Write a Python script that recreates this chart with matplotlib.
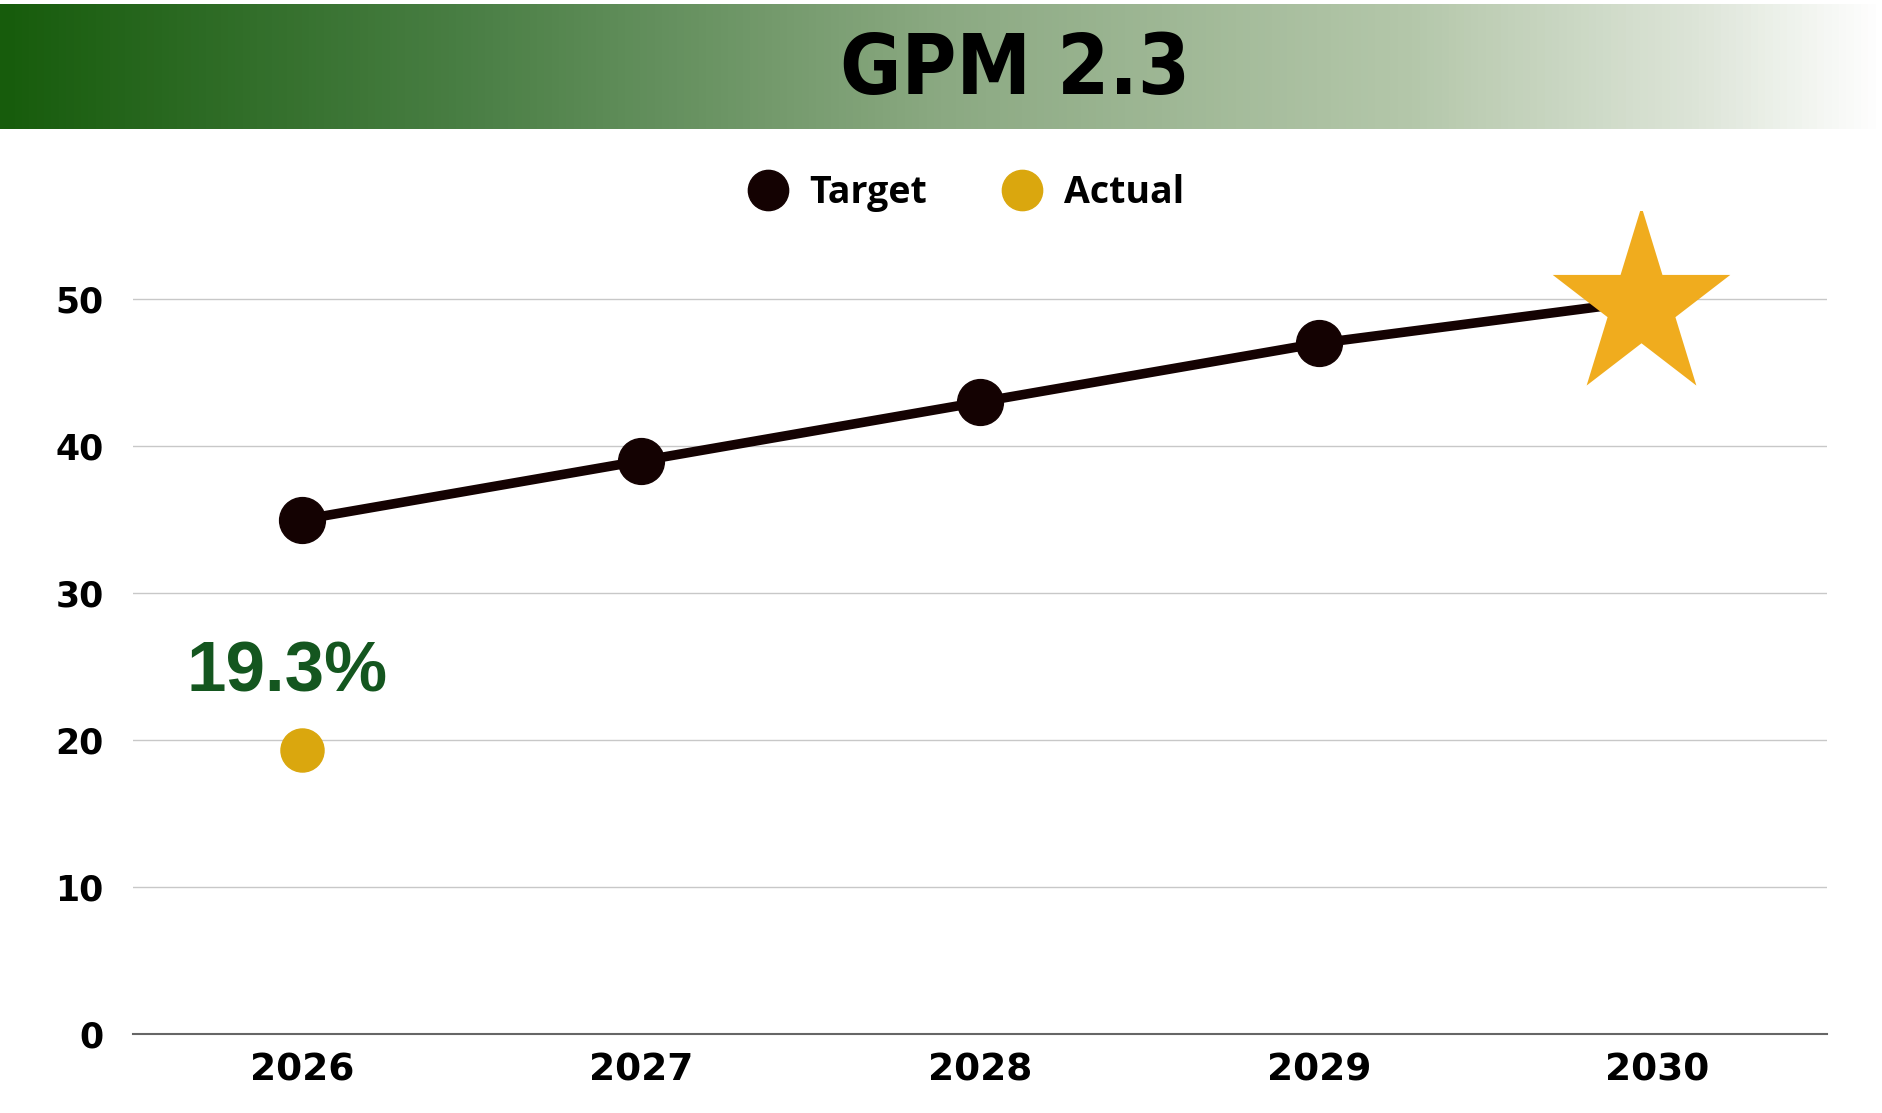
import matplotlib
matplotlib.use("Agg")
import matplotlib.pyplot as plt
import matplotlib.transforms as mtransforms
from matplotlib.colors import LinearSegmentedColormap
from matplotlib.lines import Line2D
from matplotlib.path import Path
import numpy as np

title = "GPM 2.3"
years = ["2026", "2027", "2028", "2029", "2030"]
target = [35, 39, 43, 47, 50]
actual_years = ["2026"]
actual = [19.3]
actual_label = "19.3%"
yticks = [0, 10, 20, 30, 40, 50]

C_TARGET = "#140202"
C_ACTUAL = "#DAA70E"
C_STAR = "#F0AC1E"
C_LABEL = "#14561f"

fig = plt.figure(figsize=(18.83, 11.13), dpi=100)

# header gradient band
hdr = fig.add_axes([0, 1 - 129 / 1113, 1, 125 / 1113])
cmap = LinearSegmentedColormap.from_list(
    "hdr",
    [(0, "#175c0c"), (0.25, "#4a7f45"), (0.5, "#8ba982"), (0.75, "#b4c7aa"),
     (0.9, "#dce4d7"), (1.0, "#ffffff")])
hdr.imshow(np.linspace(0, 1, 512)[None, :], aspect="auto", cmap=cmap,
           extent=[0, 1, 0, 1])
hdr.set_axis_off()
hdr.text(1015 / 1883, 0.47, title, transform=hdr.transAxes, ha="center",
         va="center", fontsize=60, fontweight="bold", fontstretch="condensed",
         family=["Liberation Sans Narrow", "DejaVu Sans"], color="black")

ax = fig.add_axes([133 / 1883, 79 / 1113, (1827 - 133) / 1883, 823 / 1113])
x = np.arange(len(years))
ax.set_xlim(-0.5, len(years) - 0.5)
ax.set_ylim(0, 56)

ax.plot(x, target, color=C_TARGET, lw=6.9, marker="o", ms=33, zorder=3,
        solid_capstyle="butt")

# slightly tall five-pointed star marker
ang = np.pi / 2 + np.arange(10) * np.pi / 5
rad = np.where(np.arange(10) % 2 == 0, 1.0, 0.381966)
verts = np.column_stack([rad * np.cos(ang), 1.06 * rad * np.sin(ang)])
verts = np.vstack([verts, verts[:1]])
star = Path(verts, closed=True)
star_tr = ax.transData + mtransforms.ScaledTranslation(-17 / 100, -6 / 100, fig.dpi_scale_trans)
ax.plot([x[-1]], [target[-1]], marker=star, ms=142.5, color=C_STAR, mec=C_STAR,
        mew=0, transform=star_tr, zorder=4, linestyle="none")

ax_idx = [years.index(y) for y in actual_years]
ax.plot(ax_idx, actual, linestyle="none", marker="o", ms=31, color=C_ACTUAL,
        zorder=3)
ax.annotate(actual_label, (ax_idx[0], actual[0]), xytext=(-11, 55),
            textcoords="offset points", ha="center", va="center",
            fontsize=51, fontweight="bold", color=C_LABEL,
            family=["Liberation Sans", "DejaVu Sans"])

ax.set_yticks(yticks)
ax.set_xticks(x)
ax.set_xticklabels(years)
ax.grid(axis="y", color="#c8c8c8", lw=1)
ax.set_axisbelow(True)
for s in ["top", "right", "left"]:
    ax.spines[s].set_visible(False)
ax.spines["bottom"].set_color("#666666")
ax.spines["bottom"].set_linewidth(1.5)
ax.tick_params(axis="both", length=0)
ax.tick_params(axis="y", pad=21)
ax.tick_params(axis="x", pad=13)
for lab in ax.get_yticklabels():
    lab.set_fontsize(25)
    lab.set_fontweight("bold")
    lab.set_family(["DejaVu Sans"])
for lab in ax.get_xticklabels():
    lab.set_fontsize(27)
    lab.set_fontweight("bold")
    lab.set_family(["DejaVu Sans"])

handles = [
    Line2D([], [], linestyle="none", marker="o", ms=29, color=C_TARGET, label="Target"),
    Line2D([], [], linestyle="none", marker="o", ms=29, color=C_ACTUAL, label="Actual"),
]
leg = fig.legend(handles=handles, loc="center", bbox_to_anchor=(957 / 1883, 1 - 193 / 1113),
                 ncol=2, frameon=False, handletextpad=0.1, columnspacing=1.55,
                 prop={"family": ["Open Sans", "DejaVu Sans"], "weight": "bold", "size": 27})

fig.savefig("out.png", dpi=100)
